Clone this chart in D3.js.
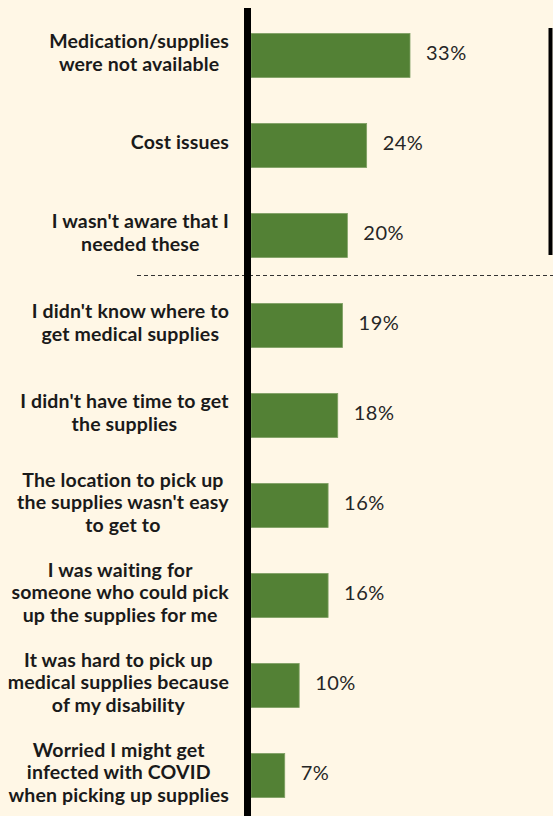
<!DOCTYPE html>
<html>
<head>
<meta charset="utf-8">
<script src="https://cdn.jsdelivr.net/npm/d3@7"></script>
<style>
  body { margin: 0; background: #fff7e6; }
  svg { display: block; }
  .cat { font-family: Lato, 'Open Sans', sans-serif; font-weight: 700; font-size: 19.5px; letter-spacing: 0.15px; fill: #1a1a1a; }
  .val { font-family: Lato, 'Open Sans', sans-serif; font-size: 20px; letter-spacing: 0.5px; fill: #262626; }
</style>
</head>
<body>
<script>
// chart data
const categories = [
  ['Medication/supplies', 'were not available'],
  ['Cost issues'],
  ['I wasn\'t aware that I', 'needed these'],
  ['I didn\'t know where to', 'get medical supplies'],
  ['I didn\'t have time to get', 'the supplies'],
  ['The location to pick up', 'the supplies wasn\'t easy', 'to get to'],
  ['I was waiting for', 'someone who could pick', 'up the supplies for me'],
  ['It was hard to pick up', 'medical supplies because', 'of my disability'],
  ['Worried I might get', 'infected with COVID', 'when picking up supplies']
];
const values = [33, 24, 20, 19, 18, 16, 16, 10, 7];

const w = 553;
const h = 816;
const axisX = 247.5;
const svg = d3.select('body')
              .append('svg')
              .attr('width', w)
              .attr('height', h);

svg.append('rect')
   .attr('width', w)
   .attr('height', h)
   .attr('fill', '#fff7e6');

const keys = categories.map((c, i) => i);

const yScale = d3.scaleBand()
                 .domain(keys)
                 .range([10.5, 820.5])
                 .paddingInner(0.51)
                 .paddingOuter(0.255);

const xScale = d3.scaleLinear()
                 .domain([0, 33])
                 .range([251, 410]);

// bars
svg.selectAll('rect.bar')
   .data(values)
   .enter()
   .append('rect')
   .attr('class', 'bar')
   .attr('x', xScale(0))
   .attr('y', (d, i) => yScale(i))
   .attr('width', d => xScale(d) - xScale(0))
   .attr('height', yScale.bandwidth())
   .attr('fill', '#538135')
   .attr('stroke', '#7fa064')
   .attr('stroke-width', 0.8);

// value labels
svg.selectAll('text.val')
   .data(values)
   .enter()
   .append('text')
   .attr('class', 'val')
   .attr('x', d => xScale(d) + 16)
   .attr('y', (d, i) => yScale(i) + yScale.bandwidth() / 2)
   .attr('dy', '0.2em')
   .text(d => d + '%');

// category labels: lines centred inside a right-aligned block
const lineH = 22.5;
categories.forEach((lines, i) => {
  const g = svg.append('g');
  const cy = yScale(i) + yScale.bandwidth() / 2;
  const t = g.append('text')
             .attr('class', 'cat')
             .attr('text-anchor', 'middle');
  lines.forEach((line, j) => {
    t.append('tspan')
     .attr('x', 0)
     .attr('y', cy + (j - (lines.length - 1) / 2) * lineH)
     .attr('dy', '0.2em')
     .text(line);
  });
  const bw = t.node().getBBox().width;
  g.attr('transform', 'translate(' + (229 - bw / 2) + ',0)');
});

// dashed separator between top three and the rest
svg.append('line')
   .attr('x1', 137)
   .attr('x2', w)
   .attr('y1', 275.5)
   .attr('y2', 275.5)
   .attr('stroke', '#333')
   .attr('stroke-width', 1.2)
   .attr('stroke-dasharray', '4,3');

// y axis line
svg.append('line')
   .attr('x1', axisX)
   .attr('x2', axisX)
   .attr('y1', 8)
   .attr('y2', h)
   .attr('stroke', '#000')
   .attr('stroke-width', 7);

// right bracket line
svg.append('line')
   .attr('x1', 550.5)
   .attr('x2', 550.5)
   .attr('y1', 28)
   .attr('y2', 255)
   .attr('stroke', '#000')
   .attr('stroke-width', 4);
</script>
</body>
</html>
